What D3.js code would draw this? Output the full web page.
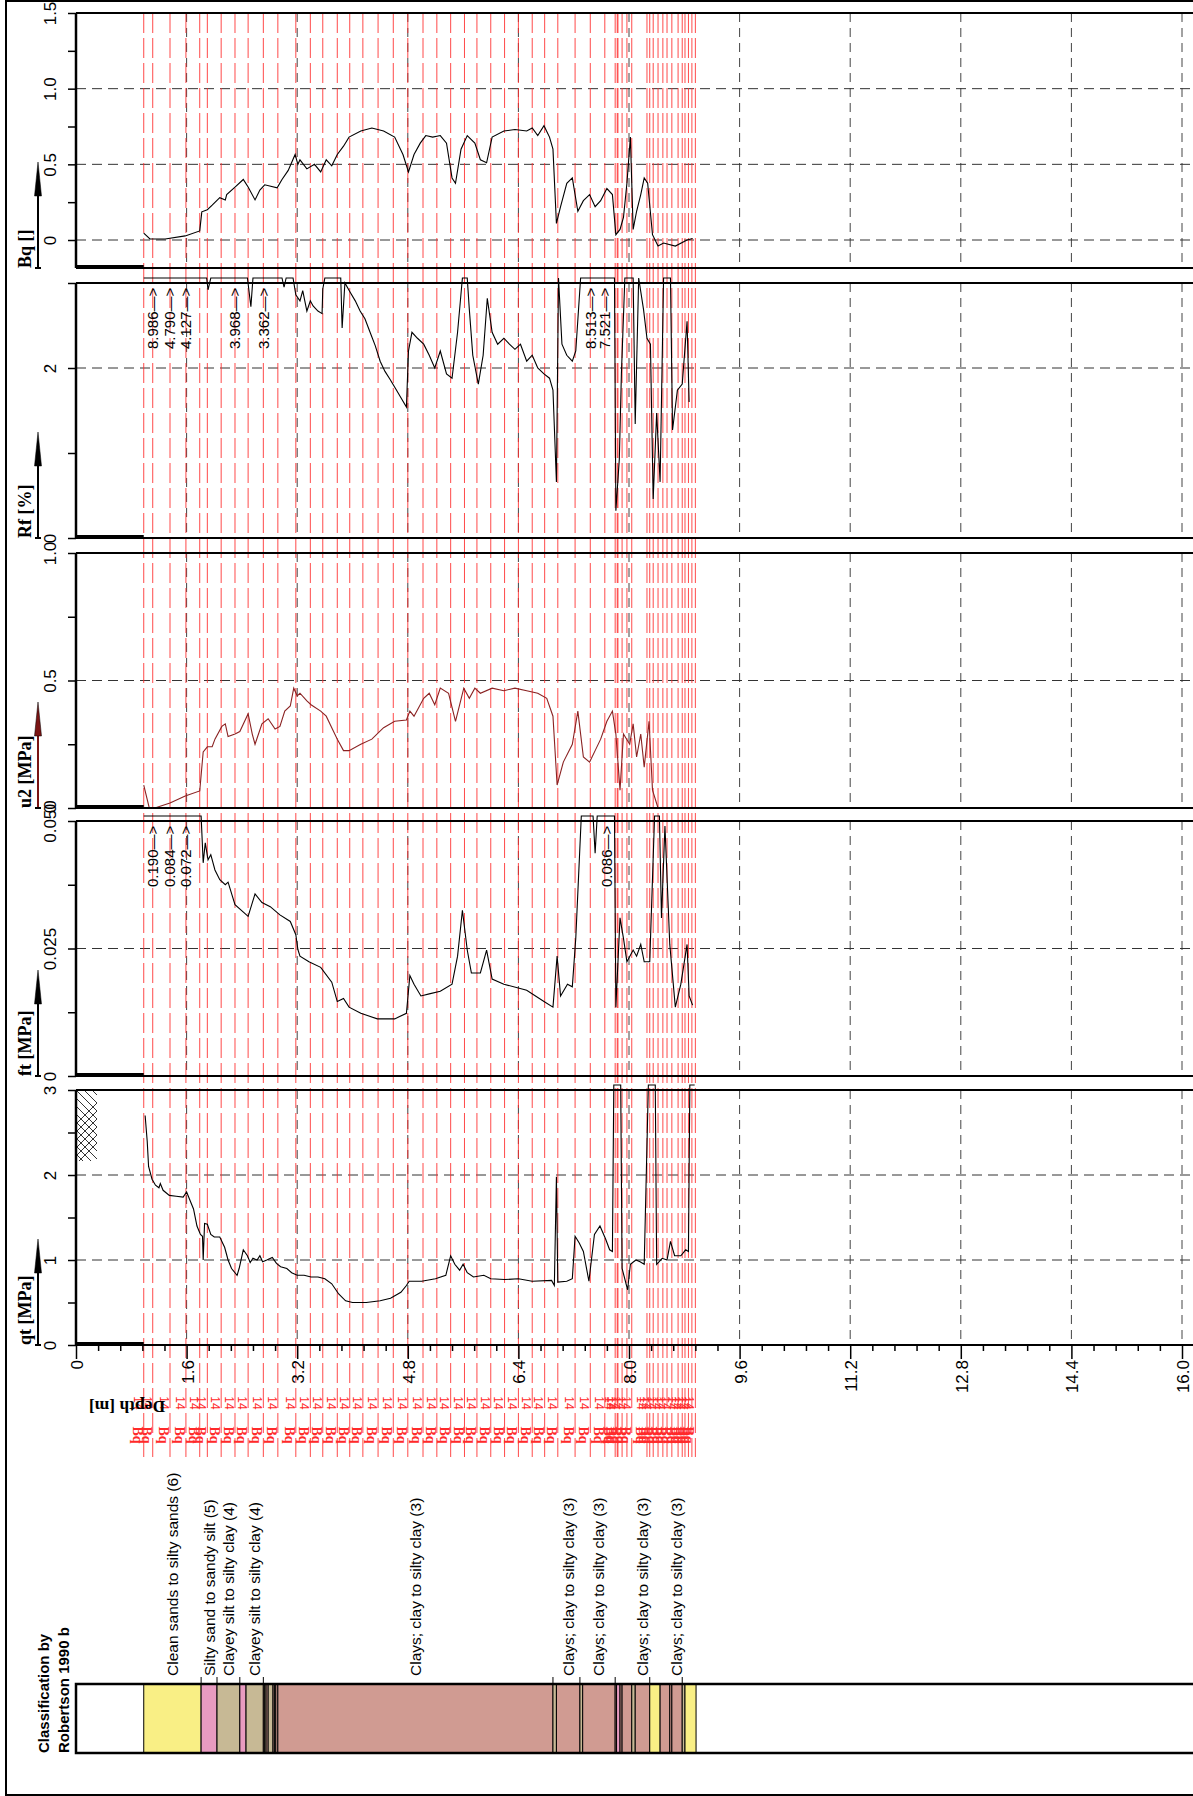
<!DOCTYPE html>
<html>
<head>
<meta charset="utf-8">
<script src="https://cdnjs.cloudflare.com/ajax/libs/d3/7.8.5/d3.min.js"></script>
<style>
body { margin: 0; background: #fff; }
svg { display: block; }
</style>
</head>
<body>
<div id="chart"></div>
<script>
// depth axis
var depthTicks = [0, 1.6, 3.2, 4.8, 6.4, 8.0, 9.6, 11.2, 12.8, 14.4, 16.0];

// series, [depth m, value]
var bqData = [[0.98,0.046],[1.07,0.007],[1.29,0.007],[1.58,0.027],[1.79,0.06],[1.82,0.186],[1.90,0.2],[1.97,0.23],[2.08,0.28],[2.16,0.265],[2.18,0.30],[2.30,0.35],[2.42,0.40],[2.49,0.35],[2.59,0.265],[2.66,0.33],[2.73,0.365],[2.91,0.345],[2.98,0.40],[3.07,0.46],[3.17,0.565],[3.21,0.5],[3.24,0.53],[3.34,0.47],[3.45,0.50],[3.54,0.45],[3.62,0.53],[3.70,0.49],[3.78,0.565],[3.87,0.62],[3.95,0.68],[4.12,0.72],[4.28,0.74],[4.45,0.72],[4.61,0.68],[4.73,0.565],[4.81,0.45],[4.89,0.565],[4.98,0.64],[5.06,0.69],[5.16,0.68],[5.27,0.69],[5.36,0.64],[5.44,0.41],[5.49,0.375],[5.57,0.60],[5.66,0.69],[5.77,0.64],[5.85,0.53],[5.94,0.51],[6.02,0.68],[6.19,0.72],[6.35,0.73],[6.52,0.72],[6.60,0.74],[6.68,0.69],[6.77,0.755],[6.85,0.68],[6.90,0.60],[6.95,0.11],[7.01,0.22],[7.10,0.375],[7.18,0.41],[7.26,0.19],[7.34,0.26],[7.43,0.30],[7.51,0.22],[7.59,0.26],[7.68,0.34],[7.76,0.30],[7.81,0.035],[7.87,0.07],[7.92,0.15],[7.97,0.375],[8.02,0.68],[8.06,0.07],[8.11,0.19],[8.17,0.30],[8.22,0.41],[8.27,0.375],[8.34,0.035],[8.42,-0.04],[8.50,-0.02],[8.67,-0.04],[8.84,0.0],[8.92,0.01]];

var rfData = [[0.98,9.2],[1.11,8.986],[1.36,4.79],[1.59,4.127],[1.89,3.5],[1.91,2.92],[1.95,3.5],[2.30,3.968],[2.48,3.5],[2.53,2.72],[2.56,3.5],[2.71,3.362],[2.98,3.4],[3.01,2.95],[3.04,3.4],[3.14,3.4],[3.18,2.86],[3.24,2.79],[3.28,2.91],[3.34,2.67],[3.39,2.79],[3.43,2.73],[3.50,2.67],[3.56,2.64],[3.57,2.93],[3.60,3.4],[3.83,3.4],[3.85,2.47],[3.89,3.0],[3.96,2.9],[4.04,2.79],[4.11,2.67],[4.18,2.58],[4.25,2.43],[4.33,2.26],[4.40,2.08],[4.47,1.96],[4.54,1.87],[4.65,1.72],[4.78,1.54],[4.81,2.2],[4.86,2.42],[4.94,2.35],[5.03,2.28],[5.11,2.15],[5.19,2.0],[5.27,2.2],[5.36,1.93],[5.44,1.88],[5.52,2.42],[5.59,3.4],[5.66,3.4],[5.69,2.69],[5.74,2.15],[5.82,1.81],[5.89,2.15],[5.95,2.82],[6.02,2.42],[6.10,2.28],[6.19,2.35],[6.27,2.28],[6.35,2.22],[6.43,2.28],[6.52,2.08],[6.60,2.15],[6.68,2.0],[6.77,1.93],[6.85,1.88],[6.90,1.74],[6.95,0.66],[6.98,3.4],[7.03,2.28],[7.10,2.15],[7.18,2.08],[7.23,2.2],[7.30,3.4],[7.44,8.513],[7.65,7.521],[7.79,3.4],[7.81,0.32],[7.86,0.93],[7.89,1.93],[7.94,3.4],[8.06,3.4],[8.09,1.34],[8.14,3.4],[8.21,2.69],[8.26,2.35],[8.31,2.28],[8.35,0.46],[8.40,1.47],[8.45,0.66],[8.50,3.4],[8.60,3.4],[8.63,1.27],[8.70,1.74],[8.77,1.81],[8.84,2.55],[8.87,1.6]];

var u2Data = [[0.98,0.09],[1.06,0.0],[1.14,0.0],[1.36,0.02],[1.58,0.047],[1.79,0.067],[1.84,0.22],[1.90,0.24],[1.97,0.24],[2.01,0.27],[2.11,0.32],[2.16,0.33],[2.20,0.28],[2.30,0.29],[2.37,0.30],[2.49,0.37],[2.55,0.29],[2.59,0.25],[2.69,0.33],[2.78,0.35],[2.88,0.31],[2.95,0.32],[3.02,0.38],[3.10,0.40],[3.15,0.47],[3.20,0.44],[3.24,0.45],[3.34,0.42],[3.40,0.405],[3.54,0.38],[3.62,0.36],[3.70,0.315],[3.78,0.27],[3.87,0.225],[3.95,0.225],[4.12,0.25],[4.28,0.27],[4.45,0.315],[4.61,0.34],[4.78,0.345],[4.83,0.38],[4.89,0.36],[5.03,0.43],[5.11,0.45],[5.19,0.405],[5.27,0.47],[5.39,0.45],[5.49,0.34],[5.61,0.47],[5.69,0.43],[5.77,0.47],[5.85,0.45],[6.02,0.47],[6.19,0.46],[6.35,0.47],[6.52,0.46],[6.68,0.45],[6.81,0.43],[6.90,0.36],[6.96,0.09],[7.05,0.18],[7.18,0.25],[7.26,0.38],[7.34,0.20],[7.43,0.18],[7.51,0.225],[7.59,0.27],[7.68,0.34],[7.76,0.38],[7.81,0.29],[7.87,0.07],[7.92,0.29],[8.01,0.25],[8.06,0.33],[8.11,0.20],[8.17,0.29],[8.22,0.16],[8.29,0.34],[8.34,0.07],[8.42,0.0]];

var ftData = [[0.98,0.2],[1.11,0.190],[1.36,0.084],[1.59,0.072],[1.81,0.06],[1.84,0.0418],[1.87,0.0457],[1.91,0.0424],[1.95,0.0434],[2.01,0.0404],[2.08,0.0385],[2.16,0.0375],[2.20,0.038],[2.30,0.0336],[2.49,0.0313],[2.59,0.0357],[2.69,0.034],[2.81,0.0332],[2.95,0.0316],[3.10,0.0303],[3.18,0.0277],[3.21,0.0248],[3.24,0.0235],[3.37,0.0224],[3.54,0.0213],[3.70,0.0184],[3.78,0.0146],[3.87,0.0152],[3.95,0.0135],[4.12,0.0123],[4.36,0.0112],[4.61,0.0112],[4.78,0.0123],[4.83,0.0197],[4.89,0.018],[4.99,0.0157],[5.11,0.0161],[5.27,0.0166],[5.44,0.018],[5.52,0.0235],[5.59,0.0325],[5.66,0.0247],[5.72,0.0202],[5.85,0.0202],[5.94,0.0247],[6.02,0.019],[6.19,0.018],[6.52,0.0168],[6.77,0.0146],[6.90,0.0135],[6.96,0.0235],[7.01,0.0157],[7.11,0.018],[7.18,0.0175],[7.23,0.027],[7.31,0.06],[7.48,0.06],[7.51,0.0437],[7.54,0.06],[7.68,0.086],[7.79,0.06],[7.81,0.0135],[7.87,0.031],[7.92,0.027],[7.97,0.0224],[8.06,0.0247],[8.11,0.0235],[8.17,0.0258],[8.22,0.0224],[8.30,0.0224],[8.37,0.06],[8.44,0.06],[8.47,0.031],[8.52,0.049],[8.59,0.0258],[8.67,0.0135],[8.75,0.018],[8.84,0.0258],[8.87,0.0157],[8.92,0.0139]];

var qtData = [[1.00,2.70],[1.03,2.40],[1.05,2.10],[1.10,1.95],[1.15,1.88],[1.20,1.85],[1.22,1.90],[1.26,1.82],[1.35,1.76],[1.45,1.75],[1.55,1.74],[1.60,1.80],[1.65,1.70],[1.70,1.60],[1.75,1.40],[1.80,1.30],[1.83,1.28],[1.84,1.00],[1.86,1.43],[1.90,1.42],[1.95,1.30],[2.00,1.27],[2.08,1.27],[2.15,1.15],[2.20,1.00],[2.25,0.90],[2.30,0.85],[2.33,0.82],[2.36,0.90],[2.42,1.12],[2.48,1.05],[2.52,0.97],[2.56,1.02],[2.62,1.00],[2.66,1.05],[2.70,0.98],[2.76,1.00],[2.84,1.03],[2.90,0.96],[2.96,0.92],[3.05,0.90],[3.12,0.85],[3.20,0.82],[3.30,0.82],[3.40,0.80],[3.50,0.80],[3.60,0.78],[3.70,0.72],[3.80,0.60],[3.90,0.52],[4.00,0.50],[4.20,0.50],[4.40,0.52],[4.55,0.55],[4.70,0.62],[4.78,0.70],[4.82,0.75],[5.00,0.75],[5.20,0.78],[5.35,0.82],[5.42,1.05],[5.48,0.95],[5.55,0.88],[5.60,0.95],[5.66,0.85],[5.75,0.80],[5.90,0.82],[6.00,0.78],[6.20,0.77],[6.40,0.78],[6.60,0.75],[6.88,0.76],[6.92,0.70],[6.95,1.98],[6.97,0.74],[7.10,0.75],[7.18,0.78],[7.22,1.28],[7.28,1.20],[7.34,1.10],[7.42,0.75],[7.50,1.30],[7.58,1.40],[7.66,1.25],[7.72,1.12],[7.76,1.10],[7.78,3.5],[7.88,3.5],[7.90,0.90],[7.98,0.65],[8.02,0.95],[8.10,1.00],[8.16,0.98],[8.22,0.95],[8.28,3.5],[8.38,3.5],[8.40,0.95],[8.48,1.02],[8.55,1.00],[8.60,1.22],[8.66,1.05],[8.75,1.05],[8.82,1.12],[8.86,1.10],[8.88,3.5],[8.95,3.5]];

// values above the panel maximum, written at the top
var rfNotes = [[1.11,"8.986"],[1.36,"4.790"],[1.59,"4.127"],[2.30,"3.968"],[2.71,"3.362"],[7.44,"8.513"],[7.65,"7.521"]];
var ftNotes = [[1.11,"0.190"],[1.36,"0.084"],[1.59,"0.072"],[7.68,"0.086"]];

// red marker lines
var markDepths = [0.98,1.11,1.36,1.59,1.79,1.90,2.10,2.30,2.49,2.71,2.92,3.18,3.39,3.57,3.78,3.96,4.15,4.37,4.59,4.80,5.02,5.22,5.42,5.62,5.80,6.00,6.20,6.40,6.60,6.78,6.97,7.22,7.44,7.65,7.80,7.83,7.84,7.90,7.97,8.04,8.26,8.30,8.35,8.42,8.49,8.55,8.62,8.71,8.77,8.81,8.86,8.91,8.96];

// classification layers [from, to, class]
var layers = [[0.98,1.81,6],[1.81,2.04,5],[2.04,2.37,4],[2.37,2.46,5],[2.46,2.71,4],[2.71,2.73,3],[2.73,2.75,4],[2.75,2.78,3],[2.78,2.85,4],[2.85,2.87,3],[2.87,2.89,4],[2.89,2.92,3],[2.92,6.90,3],[6.90,6.95,4],[6.95,7.29,3],[7.29,7.33,4],[7.33,7.80,3],[7.80,7.82,3],[7.82,7.87,5],[7.87,7.90,3],[7.90,8.04,3],[8.04,8.09,4],[8.09,8.30,3],[8.30,8.45,6],[8.45,8.59,3],[8.59,8.62,3],[8.62,8.77,3],[8.77,8.81,4],[8.81,8.97,6]];
var layerNotes = [[0.98,1.81,"Clean sands to silty sands (6)"],[1.81,2.04,"Silty sand to sandy silt (5)"],[2.04,2.37,"Clayey silt to silty clay (4)"],[2.46,2.71,"Clayey silt to silty clay (4)"],[2.92,6.90,"Clays; clay to silty clay (3)"],[6.95,7.29,"Clays; clay to silty clay (3)"],[7.33,7.80,"Clays; clay to silty clay (3)"],[8.09,8.30,"Clays; clay to silty clay (3)"],[8.62,8.77,"Clays; clay to silty clay (3)"]];
var classColors = {3: "#d09b92", 4: "#c7b995", 5: "#e89bc0", 6: "#f9ef85"};

var W = 1193, H = 1796;
var sans = "'Liberation Sans', Arial, sans-serif";
var serif = "'Liberation Serif', 'Times New Roman', serif";

var svg = d3.select("#chart").append("svg").attr("width", W).attr("height", H);
svg.append("rect").attr("x", 6).attr("y", 1).attr("width", 1200).attr("height", 1794)
   .attr("fill", "none").attr("stroke", "#000").attr("stroke-width", 2);

var x = d3.scaleLinear().domain([0, 16]).range([76, 1182]);
var panelH = 255;
var panels = [
  {top: 13, label: "Bq []", data: bqData, domain: [-0.185, 1.5], step: 0.25, labels: {"1.5":"1.5","1":"1.0","0.5":"0.5","0":"0"}, grid: [0, 0.5, 1.0], color: "#000", arrow: "#000"},
  {top: 283, label: "Rf [%]", data: rfData, domain: [0, 3], step: 1, labels: {"2":"2","0":"0"}, grid: [2], color: "#000", arrow: "#000", notes: rfNotes},
  {top: 553, label: "u2 [MPa]", data: u2Data, domain: [0, 1], step: 0.25, labels: {"1":"1.0","0.5":"0.5","0":"0"}, grid: [0.5], color: "#8a2222", arrow: "#7a1414"},
  {top: 821, label: "ft [MPa]", data: ftData, domain: [0, 0.05], step: 0.0125, labels: {"0.05":"0.050","0.025":"0.025","0":"0"}, grid: [0.025], color: "#000", arrow: "#000", notes: ftNotes},
  {top: 1090, label: "qt [MPa]", data: qtData, domain: [0, 3], step: 0.5, labels: {"3":"3","2":"2","1":"1","0":"0"}, grid: [1, 2], color: "#000", arrow: "#000"}
];

var gGrid = svg.append("g");
var gMarks = svg.append("g");
var gData = svg.append("g");
var gAxes = svg.append("g");

// red marker lines through all panels
gMarks.selectAll("line.mark").data(markDepths).enter().append("line")
  .attr("x1", function(d) { return x(d); }).attr("x2", function(d) { return x(d); })
  .attr("y1", 13).attr("y2", 1457)
  .attr("stroke", "#ff2a2a").attr("stroke-opacity", 0.85).attr("stroke-width", 1)
  .attr("stroke-dasharray", "20,5");

gMarks.selectAll("text.m14").data(markDepths).enter().append("text")
  .attr("transform", function(d) { return "translate(" + (x(d) - 6) + ",1403) rotate(90)"; })
  .attr("text-anchor", "middle").attr("dy", "0.35em")
  .attr("font-family", sans).attr("font-size", 12).attr("fill", "#ff2a2a").text("14");
gMarks.selectAll("text.mbq").data(markDepths).enter().append("text")
  .attr("transform", function(d) { return "translate(" + (x(d) - 6) + ",1435) rotate(90)"; })
  .attr("text-anchor", "middle").attr("dy", "0.35em")
  .attr("font-family", serif).attr("font-weight", "bold").attr("font-size", 14).attr("fill", "#ff2a2a").text("Bq");

panels.forEach(function(p) {
  var bottom = p.top + panelH;
  var y = d3.scaleLinear().domain(p.domain).range([bottom, p.top]);
  var max = p.domain[1];

  // dashed grid
  gGrid.selectAll(null).data(depthTicks.slice(1)).enter().append("line")
    .attr("x1", function(d) { return x(d); }).attr("x2", function(d) { return x(d); })
    .attr("y1", p.top).attr("y2", bottom)
    .attr("stroke", "#444").attr("stroke-dasharray", "9,6");
  gGrid.selectAll(null).data(p.grid).enter().append("line")
    .attr("x1", 76).attr("x2", 1200)
    .attr("y1", function(d) { return y(d); }).attr("y2", function(d) { return y(d); })
    .attr("stroke", "#333").attr("stroke-dasharray", "10,6");

  // curve, values above the top are drawn just over the frame
  var line = d3.line()
    .x(function(d) { return x(d[0]); })
    .y(function(d) { return d[1] > max ? p.top - 5 : y(d[1]); });
  gData.append("path").datum(p.data).attr("d", line)
    .attr("fill", "none").attr("stroke", p.color).attr("stroke-width", 1.1);

  if (p.notes) {
    gData.selectAll(null).data(p.notes).enter().append("text")
      .attr("transform", function(d) { return "translate(" + x(d[0]) + "," + (p.top + 66) + ") rotate(-90)"; })
      .attr("dy", "0.35em").attr("font-family", sans).attr("font-size", 15)
      .text(function(d) { return d[1] + "\u2014>"; });
  }

  // left axis
  var vals = d3.range(p.domain[1], -1e-9, -p.step).map(function(v) { return +v.toFixed(6); });
  var axis = d3.axisLeft(y).tickValues(vals).tickSize(8)
    .tickFormat(function(d) { return p.labels[String(d)] || ""; });
  var ga = gAxes.append("g").attr("transform", "translate(76,0)").call(axis);
  ga.select(".domain").remove();
  ga.selectAll(".tick line").attr("stroke", "#000").attr("stroke-width", 1.5);
  ga.selectAll(".tick text")
    .attr("transform", "rotate(-90)").attr("x", 0).attr("y", -20).attr("dy", 0)
    .attr("text-anchor", "middle").attr("font-family", sans).attr("font-size", 17).attr("fill", "#000");

  // frame
  gAxes.append("line").attr("x1", 76).attr("x2", 1200).attr("y1", p.top).attr("y2", p.top)
    .attr("stroke", "#000").attr("stroke-width", 2);
  gAxes.append("line").attr("x1", 76).attr("x2", 1200).attr("y1", bottom).attr("y2", bottom)
    .attr("stroke", "#000").attr("stroke-width", 2);
  gAxes.append("line").attr("x1", 76).attr("x2", 76).attr("y1", p.top).attr("y2", bottom)
    .attr("stroke", "#000").attr("stroke-width", 2.5);
  gAxes.append("line").attr("x1", 76).attr("x2", x(0.98)).attr("y1", bottom - 1).attr("y2", bottom - 1)
    .attr("stroke", "#000").attr("stroke-width", 4);

  // name with arrow
  gAxes.append("line").attr("x1", 38).attr("x2", 38).attr("y1", bottom).attr("y2", bottom - 80)
    .attr("stroke", p.arrow).attr("stroke-width", 2);
  gAxes.append("path")
    .attr("d", "M38," + (bottom - 106) + "L34.5," + (bottom - 72) + "L41.5," + (bottom - 72) + "Z")
    .attr("fill", p.arrow).attr("stroke", "#000").attr("stroke-width", 0.5);
  gAxes.append("line").attr("x1", 35).attr("x2", 41).attr("y1", bottom).attr("y2", bottom)
    .attr("stroke", "#000").attr("stroke-width", 2);
  gAxes.append("text")
    .attr("transform", "translate(25," + bottom + ") rotate(-90)")
    .attr("dy", "0.35em").attr("font-family", serif).attr("font-weight", "bold").attr("font-size", 18)
    .text(p.label);
});

// hatch at top of qt panel
var hatch = gAxes.append("g");
hatch.append("clipPath").attr("id", "hclip").append("rect")
  .attr("x", 77).attr("y", 1091).attr("width", 20).attr("height", 70);
var hg = hatch.append("g").attr("clip-path", "url(#hclip)");
d3.range(-24, 80, 8).forEach(function(o) {
  hg.append("line").attr("x1", 77).attr("y1", 1091 + o).attr("x2", 97).attr("y2", 1111 + o)
    .attr("stroke", "#000").attr("stroke-width", 0.8);
});
d3.range(12, 56, 8).forEach(function(o) {
  hg.append("line").attr("x1", 77).attr("y1", 1111 + o).attr("x2", 97).attr("y2", 1091 + o)
    .attr("stroke", "#000").attr("stroke-width", 0.8);
});

// depth axis
var minor = d3.range(0, 16.001, 0.32).map(function(v) { return +v.toFixed(2); });
var xAxis = d3.axisBottom(x).tickValues(minor).tickSize(6)
  .tickFormat(function(d) {
    var i = depthTicks.findIndex(function(t) { return Math.abs(t - d) < 1e-6; });
    return i >= 0 ? (i === 0 ? "0" : d3.format(".1f")(d)) : "";
  });
var gx = gAxes.append("g").attr("transform", "translate(0,1345)").call(xAxis);
gx.select(".domain").remove();
gx.selectAll(".tick line").attr("stroke", "#000").attr("stroke-width", 1.5)
  .attr("y2", function(d) { return depthTicks.some(function(t) { return Math.abs(t - d) < 1e-6; }) ? 14 : 6; });
gx.selectAll(".tick text")
  .attr("transform", "rotate(-90)").attr("x", -15).attr("y", 0).attr("dy", "0.38em")
  .attr("text-anchor", "end").attr("font-family", sans).attr("font-size", 17).attr("fill", "#000");

gAxes.append("text").attr("transform", "translate(127,1407) rotate(180)")
  .attr("text-anchor", "middle").attr("dy", "0.35em")
  .attr("font-family", serif).attr("font-weight", "bold").attr("font-size", 17.5).text("Depth [m]");

// classification bar
var barTop = 1684, barH = 69;
var gc = svg.append("g");
gc.selectAll("rect.layer").data(layers).enter().append("rect")
  .attr("x", function(d) { return x(d[0]); }).attr("width", function(d) { return x(d[1]) - x(d[0]); })
  .attr("y", barTop).attr("height", barH)
  .attr("fill", function(d) { return classColors[d[2]]; })
  .attr("stroke", "#000").attr("stroke-width", 1);
gc.append("rect").attr("x", 76).attr("y", barTop).attr("width", 1130).attr("height", barH)
  .attr("fill", "none").attr("stroke", "#000").attr("stroke-width", 2.5);
gc.selectAll("line.lead").data(layerNotes).enter().append("line")
  .attr("x1", function(d) { return x(d[1]); }).attr("x2", function(d) { return x(d[1]); })
  .attr("y1", barTop).attr("y2", barTop - 7).attr("stroke", "#000");
gc.selectAll("text.ln").data(layerNotes).enter().append("text")
  .attr("transform", function(d) { return "translate(" + x((d[0] + d[1]) / 2) + "," + (barTop - 8) + ") rotate(-90)"; })
  .attr("dy", "0.35em").attr("font-family", sans).attr("font-size", 15.5)
  .text(function(d) { return d[2]; });
gc.append("text").attr("transform", "translate(44,1753) rotate(-90)").attr("dy", "0.35em")
  .attr("font-family", sans).attr("font-weight", "bold").attr("font-size", 15).text("Classification by");
gc.append("text").attr("transform", "translate(64,1753) rotate(-90)").attr("dy", "0.35em")
  .attr("font-family", sans).attr("font-weight", "bold").attr("font-size", 15).text("Robertson 1990 b");
</script>
</body>
</html>
